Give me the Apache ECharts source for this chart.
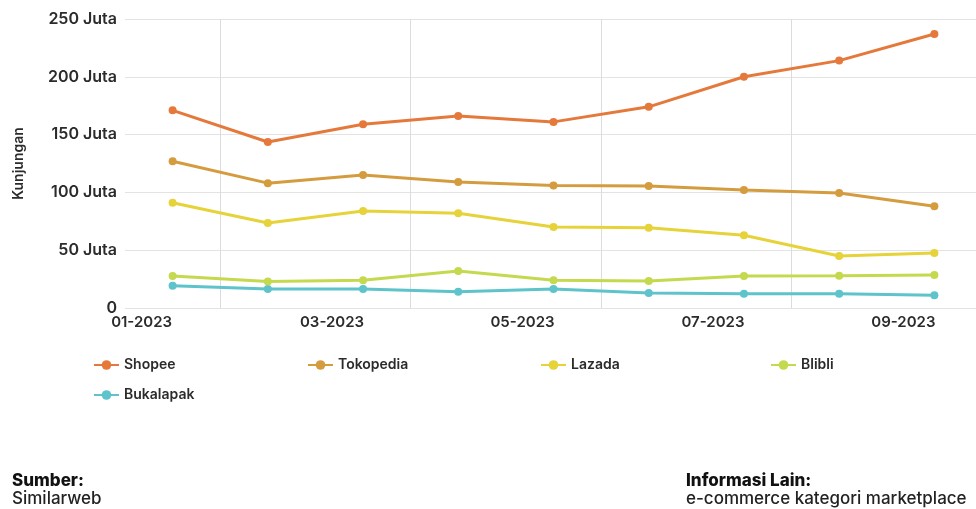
<!DOCTYPE html>
<html>
<head>
<meta charset="utf-8">
<script src="https://cdn.jsdelivr.net/npm/echarts@6/dist/echarts.min.js"></script>
<style>
  html, body { margin: 0; padding: 0; background: #fff; }
  #chart { width: 976px; height: 509px; }
</style>
</head>
<body>
<div id="chart"></div>
<script>
// monthly visits, in millions
const months = ['01-2023', '02-2023', '03-2023', '04-2023', '05-2023', '06-2023', '07-2023', '08-2023', '09-2023']
const shopee = [171, 143.6, 159, 166, 161, 174, 200, 214, 237]
const tokopedia = [127, 108, 115, 109, 106, 105.5, 102, 99.5, 88]
const lazada = [91, 73.5, 84, 82, 70, 69.5, 63, 45, 47.5]
const blibli = [27.7, 23, 24, 32, 24, 23.4, 27.7, 28, 28.5]
const bukalapak = [19.3, 16.4, 16.4, 14.1, 16.4, 13, 12.4, 12.4, 11]
const yTicks = [0, 50, 100, 150, 200, 250]

const names = ['Shopee', 'Tokopedia', 'Lazada', 'Blibli', 'Bukalapak']
const colors = ['#E5793B', '#D49C3F', '#E6D33A', '#C5D94F', '#5EC3CA']
const values = [shopee, tokopedia, lazada, blibli, bukalapak]

const font = 'Inter, "Noto Sans", sans-serif'
const textDark = '#2b2b2b'

// one legend per item so they sit in fixed columns
const legendSpots = [[93, 358], [307, 358], [540, 358], [770, 358], [93, 388]]
const legends = names.map((n, i) => ({
  data: [n],
  left: legendSpots[i][0],
  top: legendSpots[i][1],
  padding: 0,
  itemWidth: 25,
  itemHeight: 12,
  itemGap: 0,
  textStyle: {fontFamily: font, fontSize: 14, fontWeight: 600, color: textDark},
}))

const series = names.map((n, i) => ({
  name: n,
  type: 'line',
  data: values[i],
  color: colors[i],
  symbol: 'circle',
  symbolSize: 8,
  lineStyle: {width: 3},
  z: 10 - i,
}))

const footFont = (w, s) => `${w} ${s}px Inter, "Noto Sans", sans-serif`

const chart = echarts.init(document.getElementById('chart'), null, {renderer: 'canvas'})
chart.setOption({
  animation: false,
  backgroundColor: '#fff',
  grid: {left: 125, right: -6, top: 19, bottom: 201, outerBoundsMode: 'none', containLabel: false},
  legend: legends,
  xAxis: {
    type: 'category',
    data: months,
    boundaryGap: true,
    axisLine: {show: false},
    axisTick: {show: false},
    axisLabel: {
      interval: 1,
      margin: 7,
      padding: [0, 62, 0, 0],
      fontFamily: font,
      fontSize: 15,
      fontWeight: 600,
      color: textDark,
    },
    splitLine: {
      show: true,
      interval: (idx) => idx % 2 === 1,
      lineStyle: {color: '#dcdcdc', width: 1},
    },
  },
  yAxis: {
    type: 'value',
    min: yTicks[0],
    max: yTicks[yTicks.length - 1],
    interval: 50,
    name: 'Kunjungan',
    nameLocation: 'middle',
    nameRotate: 90,
    nameGap: 99,
    nameTextStyle: {fontFamily: font, fontSize: 14, fontWeight: 600, color: textDark},
    axisLine: {show: false},
    axisTick: {show: false},
    axisLabel: {
      margin: 8,
      fontFamily: font,
      fontSize: 16,
      fontWeight: 600,
      color: textDark,
      formatter: (v) => (v === 0 ? '0' : v + ' Juta'),
    },
    splitLine: {lineStyle: {color: '#e3e3e3', width: 1}},
  },
  graphic: [
    {type: 'text', left: 12, top: 472, style: {text: 'Sumber:', font: footFont(800, 17), fill: '#111'}},
    {type: 'text', left: 12, top: 490, style: {text: 'Similarweb', font: footFont(500, 17), fill: '#222'}},
    {type: 'text', left: 686, top: 472, style: {text: 'Informasi Lain:', font: footFont(800, 17), fill: '#111'}},
    {type: 'text', left: 686, top: 490, style: {text: 'e-commerce kategori marketplace', font: footFont(500, 17), fill: '#222'}},
  ],
  series,
})
</script>
</body>
</html>
